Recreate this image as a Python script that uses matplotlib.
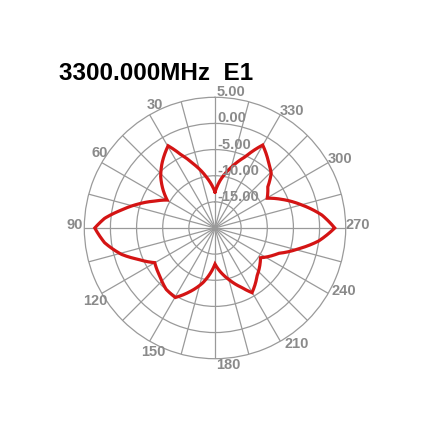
import numpy as np
import matplotlib
matplotlib.use("Agg")
import matplotlib.pyplot as plt

# ---- data ----
angles_deg = [0, 9.6, 17.9, 24.8, 29.7, 39.3, 46.6, 53.8, 59.7, 65.9, 72.7, 79.1, 85, 90,
              97.6, 105.7, 112.1, 119.9, 131, 141.5, 150.3, 157.3, 167.6, 180,
              195, 204.3, 209.8, 221.2, 236.8, 248.3, 256.1, 262.9, 270,
              276.9, 284.8, 293.2, 299.7, 307.9, 314.2, 320.3, 330.1, 337, 344.5, 353.7, 360]
gain_db = [-13.1, -10.1, -7.3, -4.6, -1.9, -4.0, -5.7, -7.7, -9.4, -7.4, -4.6, -1.8, 1.2, 3.0,
           1.3, -1.4, -4.1, -6.7, -6.0, -5.0, -4.7, -6.6, -9.3, -13.1,
           -9.8, -7.5, -5.75, -7.8, -9.6, -6.9, -3.5, 0.0, 2.9,
           0.6, -2.8, -6.1, -8.5, -7.2, -5.0, -3.9, -1.7, -5.2, -7.8, -10.8, -13.1]
ring_values = [5, 0, -5, -10, -15]
ring_labels = ["5.00", "0.00", "-5.00", "-10.00", "-15.00"]
angle_ticks = [30, 60, 90, 120, 150, 180, 210, 240, 270, 300, 330]
angle_tick_labels = ["30", "60", "90", "120", "150", "180", "210", "240", "270", "300", "330"]
title_text = "3300.000MHz  E1"

# ---- figure ----
W = 432
fig = plt.figure(figsize=(4.32, 4.32), dpi=100)
fig.patch.set_facecolor("white")
cx, cy, R = 215 / W, (W - 228) / W, 130.7 / W
ax = fig.add_axes([cx - R, cy - R, 2 * R, 2 * R], projection="polar")
ax.set_theta_zero_location("N")
ax.set_theta_direction(1)
ax.set_ylim(-20, 5)

grid_col = "#9a9a9a"
ax.set_yticks([-15, -10, -5, 0])
ax.set_yticklabels([])
ax.set_xticks(np.deg2rad(np.arange(0, 360, 15)))
ax.set_xticklabels([])
ax.grid(True, color=grid_col, linewidth=0.9)
ax.spines["polar"].set_color(grid_col)
ax.spines["polar"].set_linewidth(0.9)
ax.tick_params(length=0)

line, = ax.plot(np.deg2rad(angles_deg), gain_db, color="#d41414", linewidth=2.3,
                zorder=5, solid_joinstyle="miter")
# draw each segment along the polar scale (arc-like), as the original plotter does
line.get_path()._interpolation_steps = 40

lab_col = "#8a8a8a"
lab_font = dict(family="Liberation Sans", fontsize=10.5, color=lab_col, weight="bold")

# radial labels along the 0-degree spoke
for v, s in zip(ring_values, ring_labels):
    ax.annotate(s, xy=(0, v), xytext=(2, 1), textcoords="offset pixels",
                ha="left", va="baseline", zorder=6, **lab_font)

# angle labels around the outer ring
offsets = {30: (5.4, -9.8), 60: (-1.8, -9.7), 90: (-9.3, -3), 120: (-6.8, 7.6),
           150: (3.7, 10.8), 180: (13.3, 6.3), 210: (16.3, 2.8), 240: (16, -2.2),
           270: (11.8, -3), 300: (11.8, -3.7), 330: (12.1, -4)}
for a, s in zip(angle_ticks, angle_tick_labels):
    dx, dy = offsets[a]
    ax.annotate(s, xy=(np.deg2rad(a), 5), xytext=(dx, -dy), textcoords="offset pixels",
                ha="center", va="center", annotation_clip=False, **lab_font)

fig.text(59 / W, (W - 80) / W, title_text, ha="left", va="baseline",
         family="Liberation Sans", weight="bold", fontsize=17.5, color="black")

fig.savefig("out.png", dpi=100, facecolor="white")
